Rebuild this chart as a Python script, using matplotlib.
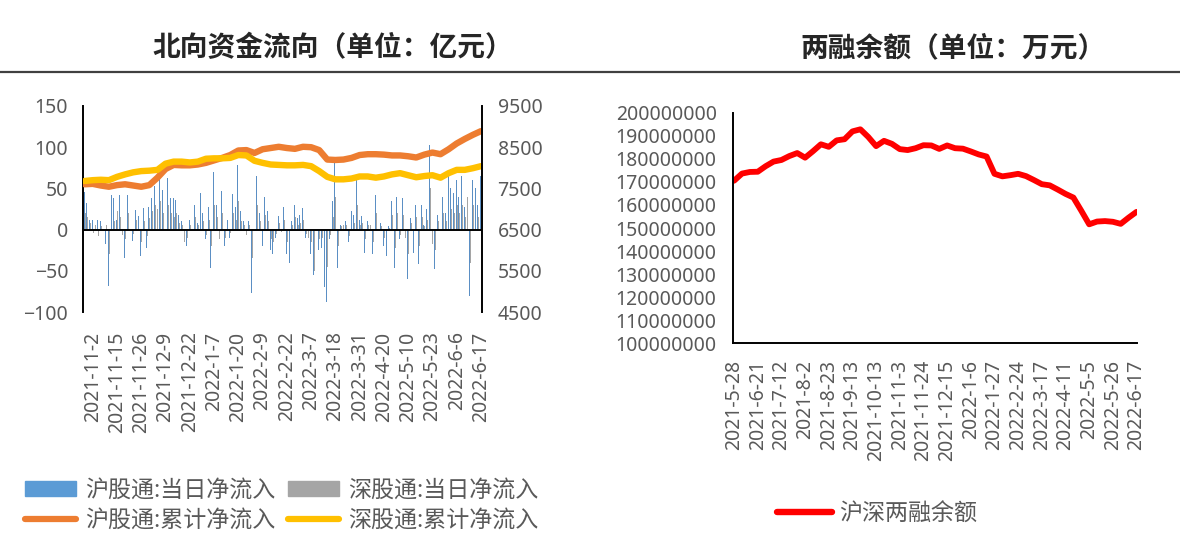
import numpy as np
import matplotlib
matplotlib.use("Agg")
import matplotlib.pyplot as plt
import matplotlib.patches as mp
from matplotlib.lines import Line2D
from matplotlib.ticker import StrMethodFormatter

plt.rcParams['font.family'] = ['Noto Sans', 'Noto Sans CJK SC', 'DejaVu Sans']
cjk = ['Noto Sans CJK SC', 'DejaVu Sans']
grey = '#595959'

# 北向资金：每日净流入（亿元），148 个交易日
hgt_daily = [46, 32, 12, 12, -6, 12, 10, -20, -17, -69, 42, 38, 12, 42, -10, -34, 42, 28, -14, 24,
             16, -32, 26, -22, 28, 38, 53, 57, 63, 48, 115, 63, 38, 38, 36, 18, 10,
             -36, -20, 12, -16, 30, 8, 45, 20, -12, 28, -46, 70, 30, -30, 47, -20, 12, -10, 43, 28,
             78, 22, 10, -12, 10, -77, -83, 65, 20, -20, 40, 22, -25, -30, -10, 16, -6,
             28, -30, -40, 10, 30, 14, 18, 26, -10, -22, -30, -55, -40, -25, -22, -70, -88, -12,
             35, 82, -47, 6, 12, 10, -15, 22, 18, 60, 12, 16, -28, 10, 12, -30, 42, -12, 8,
             -20, -32, 4, 35, -47, 40, -12, 38, -20, -60, 14, -28, 30, -42, 30, 6, 25, 103, -35, -48,
             18, 4, 40, 20, 65, 50, 45, 60, 40, 65, 28, 85, -80, 60, 50, 30, 65]
sgt_daily = [20, 15, 8, -4, 5, -8, 4, -10, 6, -30, 18, 10, 22, 15, -6, -12, 20, 10, -5, 12,
             8, -15, 10, -8, 14, 22, 30, 25, 35, 20, 55, 30, 20, 15, 20, 8, 5,
             -15, -10, 6, -8, 15, 5, 20, 10, -6, 12, -20, 30, 15, -12, 20, -10, 6, -4, 20, 12,
             35, 10, 5, -6, 5, -35, -40, 30, 10, -10, 18, 10, -12, -15, -5, 8, -3,
             12, -15, -20, 5, 15, 6, 8, 12, -5, -10, -15, -50, -20, -12, -10, -35, -45, -6,
             15, 40, -20, 4, 6, 5, -8, 10, 8, 30, 6, 8, -12, 5, 6, -15, 20, -6, 4,
             -10, -15, 2, 18, -22, 20, -6, 18, -10, -30, 8, -14, 15, -20, 15, 4, 12, 50, -18, -25,
             10, 2, 20, 10, 30, 25, 20, 30, 20, 30, 15, 40, -40, 30, 25, 15, 30]

# 累计净流入（每 3 个交易日取一点）
hgt_cum = [7600, 7610, 7570, 7540, 7580, 7600, 7570, 7540, 7580, 7760, 7970, 8070, 8060, 8060, 8080,
           8120, 8180, 8240, 8310, 8420, 8430, 8360, 8450, 8480, 8510, 8480, 8460, 8510, 8500, 8430,
           8200, 8190, 8200, 8240, 8310, 8330, 8330, 8320, 8300, 8300, 8280, 8250, 8320, 8370, 8330,
           8450, 8590, 8700, 8800, 8890]
sgt_cum = [7680, 7700, 7710, 7700, 7780, 7840, 7890, 7920, 7930, 7950, 8100, 8150, 8150, 8130, 8150,
           8220, 8230, 8230, 8240, 8310, 8300, 8170, 8120, 8080, 8070, 8060, 8060, 8070, 8040, 7920,
           7780, 7720, 7720, 7740, 7790, 7790, 7760, 7790, 7840, 7870, 7820, 7770, 7800, 7820, 7760,
           7870, 7950, 7950, 7990, 8040]

left_labels = ['2021-11-2', '2021-11-15', '2021-11-26', '2021-12-9', '2021-12-22', '2022-1-7',
               '2022-1-20', '2022-2-9', '2022-2-22', '2022-3-7', '2022-3-18', '2022-3-31',
               '2022-4-20', '2022-5-10', '2022-5-23', '2022-6-6', '2022-6-17']

# 两融余额（万元），每 5 个交易日取一点，共 256 个交易日
margin = [170.5e6, 173.6e6, 174.3e6, 174.4e6, 176.8e6, 178.8e6, 179.5e6, 181.2e6, 182.5e6, 180.5e6,
          183.3e6, 186.3e6, 185.2e6, 188.0e6, 188.5e6, 191.9e6, 192.8e6, 189.5e6, 185.5e6, 187.8e6,
          186.5e6, 184.2e6, 183.8e6, 184.6e6, 185.9e6, 185.8e6, 184.3e6, 185.8e6, 184.6e6, 184.4e6,
          183.2e6, 181.9e6, 181.0e6, 173.5e6, 172.4e6, 172.9e6, 173.5e6, 172.5e6, 170.8e6, 169.0e6,
          168.5e6, 166.7e6, 164.8e6, 163.2e6, 157.5e6, 151.6e6, 152.8e6, 153.0e6, 152.7e6, 151.8e6,
          154.5e6, 157.0e6]
right_labels = ['2021-5-28', '2021-6-21', '2021-7-12', '2021-8-2', '2021-8-23', '2021-9-13',
                '2021-10-13', '2021-11-3', '2021-11-24', '2021-12-15', '2022-1-6', '2022-1-27',
                '2022-2-24', '2022-3-17', '2022-4-11', '2022-5-5', '2022-5-26', '2022-6-17']

fig = plt.figure(figsize=(11.8, 5.48), dpi=100)

# 标题与分隔线
fig.text(333 / 1180, 1 - 48 / 548, '北向资金流向（单位：亿元）', family=cjk, fontsize=20,
         fontweight='bold', color='#262626', ha='center', va='center')
fig.text(953 / 1180, 1 - 48 / 548, '两融余额（单位：万元）', family=cjk, fontsize=20,
         fontweight='bold', color='#262626', ha='center', va='center')
fig.add_artist(Line2D([0, 1], [1 - 72 / 548] * 2, color='#404040', lw=1.6, transform=fig.transFigure))

# 左图
ax = fig.add_axes([83.3 / 1180, 1 - 312 / 548, 399 / 1180, 206 / 548])
n = len(hgt_daily)
x = np.arange(n)
ax.bar(x - 0.17, hgt_daily, width=0.32, color='#5b8fc4', linewidth=0)
ax.bar(x + 0.17, sgt_daily, width=0.32, color='#a5a5a5', linewidth=0)
ax.axhline(0, color='black', lw=1.4)
ax.set_xlim(-0.5, n - 0.5)
ax.set_ylim(-100, 150)
ax.set_yticks(range(-100, 151, 50))
ax.set_xticks(np.arange(3, n, 9))
ax.set_xticklabels(left_labels, rotation=90, ha='center', va='top')
ax.tick_params(axis='x', length=0, pad=14, labelsize=14, colors=grey)
ax.tick_params(axis='y', length=0, pad=11, labelsize=14, colors=grey)
for s in ['top', 'bottom', 'right']:
    ax.spines[s].set_visible(False)
ax.spines['left'].set_linewidth(1.4)

ax2 = ax.twinx()
xc = np.arange(0, n, 3)
ax2.plot(xc, hgt_cum, color='#ed7d31', lw=4.6, solid_capstyle='round')
ax2.plot(xc, sgt_cum, color='#ffc000', lw=4.6, solid_capstyle='round')
ax2.set_ylim(4500, 9500)
ax2.set_yticks(range(4500, 9501, 1000))
ax2.tick_params(axis='y', length=0, pad=11, labelsize=14, colors=grey)
for s in ['top', 'bottom', 'left']:
    ax2.spines[s].set_visible(False)
ax2.spines['right'].set_linewidth(1.4)

handles = [mp.Patch(color='#5b9bd5', label='沪股通:当日净流入'),
           Line2D([], [], color='#ed7d31', lw=4.5, solid_capstyle='round', label='沪股通:累计净流入'),
           mp.Patch(color='#a5a5a5', label='深股通:当日净流入'),
           Line2D([], [], color='#ffc000', lw=4.5, solid_capstyle='round', label='深股通:累计净流入')]
fig.legend(handles=handles, ncol=2, loc='center left', bbox_to_anchor=(25 / 1180, 1 - 505 / 548),
           frameon=False, prop={'family': cjk, 'size': 16.6}, labelcolor=grey,
           handlelength=2.2, handleheight=0.6, handletextpad=0.4, columnspacing=0.55,
           labelspacing=0.3, borderpad=0, borderaxespad=0)

# 右图
bx = fig.add_axes([733.3 / 1180, 1 - 343.3 / 548, 404 / 1180, 230.6 / 548])
m = 256
bx.plot(np.arange(0, m, 5), margin, color='#ff0000', lw=4.2, solid_capstyle='round')
bx.set_xlim(-0.5, m - 0.5)
bx.set_ylim(100e6, 200e6)
bx.set_yticks(np.arange(100e6, 200e6 + 1, 10e6))
bx.yaxis.set_major_formatter(StrMethodFormatter('{x:.0f}'))
bx.set_xticks(np.arange(0, m, 15))
bx.set_xticklabels(right_labels, rotation=90, ha='center', va='top')
bx.tick_params(axis='x', length=0, pad=12, labelsize=14, colors=grey)
bx.tick_params(axis='y', length=0, pad=12, labelsize=14, colors=grey)
for s in ['top', 'right']:
    bx.spines[s].set_visible(False)
bx.spines['left'].set_linewidth(1.4)
bx.spines['bottom'].set_linewidth(1.4)

fig.legend(handles=[Line2D([], [], color='#ff0000', lw=4.6, solid_capstyle='round', label='沪深两融余额')],
           loc='center left', bbox_to_anchor=(777 / 1180, 1 - 514 / 548), frameon=False,
           prop={'family': cjk, 'size': 16.6}, labelcolor=grey, handlelength=2.4,
           handletextpad=0.3, borderpad=0, borderaxespad=0)

fig.savefig('out.png', dpi=100)
